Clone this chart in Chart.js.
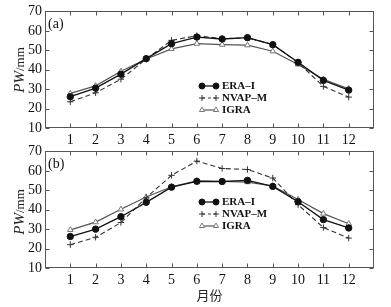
<!DOCTYPE html>
<html><head><meta charset="utf-8">
<script src="https://cdn.jsdelivr.net/npm/chart.js@4/dist/chart.umd.min.js"></script>
<style>
body{margin:0;width:391px;height:307px;background:#fff;position:relative;overflow:hidden;font-family:'Liberation Serif',serif}
.cv{position:absolute;left:0}
.ytitle{position:absolute;left:19px;transform:translate(-50%,-50%) rotate(-90deg);white-space:nowrap;color:#222;font-family:'Liberation Serif',serif}
.ytitle i{font-size:15px}
.ytitle span{font-size:13px}
.plabel{position:absolute;left:48px;font-size:14px;color:#111;font-family:'Liberation Serif',serif}
</style></head><body>
<canvas id="ca" class="cv" width="391" height="145" style="top:0"></canvas>
<canvas id="cb" class="cv" width="391" height="167" style="top:140px"></canvas>
<div class="ytitle" style="top:70px"><i>PW</i><span>/mm</span></div>
<div class="ytitle" style="top:212px"><i>PW</i><span>/mm</span></div>
<div class="plabel" style="top:16px">(a)</div>
<div class="plabel" style="top:156px">(b)</div>
<script>
const months = [1,2,3,4,5,6,7,8,9,10,11,12];
const yTicks = [10,20,30,40,50,60,70];
const seriesNames = ['ERA–I','NVAP–M','IGRA'];
const eraA  = [26.1,30.5,37.7,45.7,53.4,56.8,55.8,56.5,52.9,43.8,34.5,29.5];
const nvapA = [23.5,28.1,35.1,45.5,55.1,57.5,56.0,56.4,53.0,43.6,31.4,25.9];
const igraA = [27.8,31.7,39.2,45.5,50.7,53.4,52.9,52.6,49.5,42.7,35.1,30.2];
const eraB  = [26.2,30.0,36.4,43.8,51.6,54.6,54.5,55.1,52.0,44.1,34.9,30.6];
const nvapB = [22.0,25.8,33.4,46.2,57.7,65.0,61.2,60.7,56.3,42.6,30.8,25.4];
const igraB = [29.6,33.6,40.2,46.5,51.8,54.8,54.5,54.2,52.2,45.2,38.0,32.8];
const xTitle = '月份';

const SERIF = "'Liberation Serif', 'Times New Roman', serif";

function pts(arr){ return months.map((m,i)=>({x:m,y:arr[i]})); }

function makeDatasets(era,nvap,igra){
  return [
    {label:seriesNames[0], data:pts(era), borderColor:'#111', borderWidth:1.3,
     pointStyle:'circle', pointRadius:3.2, pointBackgroundColor:'#111', pointBorderColor:'#111', pointBorderWidth:1},
    {label:seriesNames[1], data:pts(nvap), borderColor:'#333', borderWidth:1.1, borderDash:[5,3],
     pointStyle:'cross', pointRadius:3.2, pointBackgroundColor:'#333', pointBorderColor:'#333', pointBorderWidth:1},
    {label:seriesNames[2], data:pts(igra), borderColor:'#555', borderWidth:1.2,
     pointStyle:'triangle', pointRadius:3.2, pointBackgroundColor:'#fff', pointBorderColor:'#777', pointBorderWidth:1}
  ];
}

const boxPlugin = {
  id:'box',
  afterDatasetsDraw(chart){
    const {ctx, chartArea:ca, scales:{x,y}} = chart;
    ctx.save();
    ctx.strokeStyle='#555'; ctx.lineWidth=1; ctx.setLineDash([]);
    const L=Math.round(ca.left)+0.5, R=Math.round(ca.right)-0.5, T=Math.round(ca.top)+0.5, B=Math.round(ca.bottom)-0.5;
    ctx.strokeRect(L,T,R-L,B-T);
    ctx.beginPath();
    months.forEach(m=>{
      const px=Math.round(x.getPixelForValue(m))+0.5;
      ctx.moveTo(px,B); ctx.lineTo(px,B-4);
      ctx.moveTo(px,T); ctx.lineTo(px,T+4);
    });
    yTicks.forEach(v=>{
      const py=Math.round(y.getPixelForValue(v))+0.5;
      ctx.moveTo(L,py); ctx.lineTo(L+4,py);
      ctx.moveTo(R,py); ctx.lineTo(R-4,py);
    });
    ctx.stroke();
    ctx.restore();
  }
};

const legendPlugin = {
  id:'inLegend',
  afterDatasetsDraw(chart, args, opts){
    const ctx=chart.ctx;
    chart.data.datasets.forEach((ds,i)=>{
      const y=opts.y+i*opts.gap, x0=opts.x, x1=opts.x+14;
      ctx.save();
      ctx.strokeStyle=ds.borderColor; ctx.lineWidth=ds.borderWidth;
      ctx.setLineDash(ds.borderDash ? [3,3] : []);
      ctx.beginPath(); ctx.moveTo(x0,y); ctx.lineTo(x1,y); ctx.stroke();
      ctx.setLineDash([]);
      const po={pointStyle:ds.pointStyle, radius:3, borderWidth:1, rotation:0};
      ctx.fillStyle=ds.pointBackgroundColor; ctx.strokeStyle=ds.pointBorderColor; ctx.lineWidth=1;
      Chart.helpers.drawPoint(ctx,po,x0,y); Chart.helpers.drawPoint(ctx,po,x1,y);
      ctx.fillStyle='#111'; ctx.font='bold 11px '+SERIF; ctx.textBaseline='middle'; ctx.textAlign='left';
      ctx.fillText(ds.label, opts.x+20, y+0.5);
      ctx.restore();
    });
  }
};

function makeChart(id, ds, xHeight, showTitle, legendY){
  return new Chart(document.getElementById(id), {
    type:'line',
    data:{datasets:ds},
    options:{
      responsive:false, animation:false, devicePixelRatio:1,
      layout:{padding:{top:11,right:17,left:0,bottom:0}},
      plugins:{legend:{display:false}, tooltip:{enabled:false},
        inLegend:{x:202, y:legendY, gap:12}},
      scales:{
        x:{type:'linear', min:0, max:13,
           grid:{display:false, drawTicks:false}, border:{display:false},
           ticks:{stepSize:1, autoSkip:false, maxRotation:0, padding:4, color:'#111',
                  font:{family:SERIF, size:14},
                  callback:v=>months.includes(v)?String(v):''},
           title:{display:showTitle, text:xTitle, color:'#222', padding:{top:0,bottom:4},
                  font:{family:"'Noto Sans CJK SC', sans-serif", size:13}},
           afterFit:s=>{s.height=xHeight;}},
        y:{type:'linear', min:10, max:70,
           grid:{display:false, drawTicks:false}, border:{display:false},
           ticks:{stepSize:10, autoSkip:false, padding:3, color:'#111', font:{family:SERIF, size:14}},
           afterFit:s=>{s.width=45;}}
      }
    },
    plugins:[boxPlugin, legendPlugin]
  });
}

makeChart('ca', makeDatasets(eraA,nvapA,igraA), 17, false, 86);
makeChart('cb', makeDatasets(eraB,nvapB,igraB), 39, true, 62);
</script>
</body></html>
